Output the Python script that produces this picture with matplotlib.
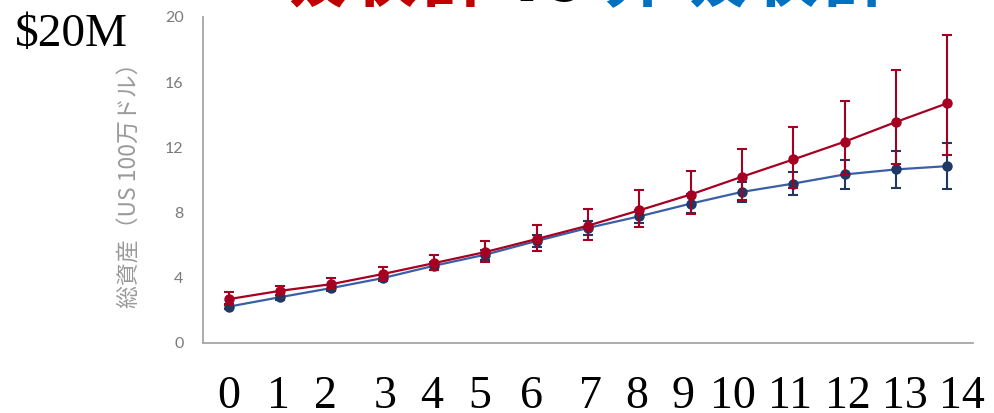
import matplotlib
matplotlib.use("Agg")
import matplotlib.pyplot as plt

# ---- data ----
years = list(range(15))
year_labels = [str(y) for y in years]

absorb_mean = [2.69, 3.20, 3.61, 4.23, 4.90, 5.58, 6.38, 7.20, 8.14, 9.11, 10.20, 11.26, 12.35, 13.56, 14.71]
absorb_err_hi = [0.41, 0.31, 0.37, 0.43, 0.52, 0.70, 0.84, 1.03, 1.23, 1.47, 1.68, 2.01, 2.50, 3.18, 4.20]
absorb_err_lo = [0.35, 0.27, 0.32, 0.37, 0.45, 0.61, 0.72, 0.86, 1.02, 1.20, 1.40, 1.74, 2.05, 2.56, 3.16]

nonabs_mean = [2.23, 2.81, 3.37, 3.98, 4.74, 5.42, 6.26, 7.06, 7.77, 8.55, 9.27, 9.78, 10.34, 10.65, 10.85]
nonabs_err = [0.15, 0.15, 0.18, 0.20, 0.25, 0.30, 0.35, 0.42, 0.42, 0.60, 0.60, 0.70, 0.87, 1.12, 1.42]

y_ticks = [0, 4, 8, 12, 16, 20]
y_label = "総資産（US 100万ドル）"
title_parts = ["吸収群", "vs", "非吸収群"]
corner_label = "$20M"

# ---- layout ----
W, H = 994, 413
fig = plt.figure(figsize=(W / 100, H / 100), dpi=100)
ax = fig.add_axes([203 / W, (H - 343) / H, (973 - 203) / W, (343 - 17) / H])

red = "#A50021"
blue_line = "#3B5FA6"
navy = "#1F3864"

ax.errorbar(years, absorb_mean, yerr=[absorb_err_lo, absorb_err_hi], color=red,
            lw=1.6, marker="o", ms=6.5, mfc=red, mec=red, ecolor=red,
            elinewidth=1.5, capsize=3.5, capthick=1.5, zorder=3)
ax.errorbar(years, nonabs_mean, yerr=nonabs_err, color=blue_line,
            lw=1.6, marker="o", ms=6.5, mfc=navy, mec=navy, ecolor=navy,
            elinewidth=1.5, capsize=3.5, capthick=1.5, zorder=2)

ax.set_xlim(-0.5, 14.5)
ax.set_ylim(0, 20)
ax.set_yticks(y_ticks)
ax.set_yticklabels([str(t) for t in y_ticks], family="Lato", fontsize=11.5, color="#7A7A7A")
ax.tick_params(axis="y", length=0, pad=14)
ax.set_xticks([])
for s in ["top", "right"]:
    ax.spines[s].set_visible(False)
for s in ["left", "bottom"]:
    ax.spines[s].set_color("#A6A6A6")
    ax.spines[s].set_linewidth(1.3)

ax.set_ylabel(y_label, family=["Noto Sans CJK JP", "DejaVu Sans"], fontsize=16.5, color="#9A9A9A")
ax.yaxis.set_label_coords((142 - 203) / 770, 0.50)

# big serif year labels under the axis
label_x_px = [229, 278, 325, 385, 432, 480, 531, 590, 637, 683, 733, 790, 848, 905, 962]
for lx, lab in zip(label_x_px, year_labels):
    fig.text(lx / W, 1 - 408 / H, lab, family="Liberation Serif", fontsize=33,
             ha="center", va="baseline", color="black")

fig.text(15 / W, 1 - 46 / H, corner_label, family="Liberation Serif", fontsize=34,
         ha="left", va="baseline", color="black")

# title (mostly cut off at the top)
tfont = ["Noto Sans CJK JP", "DejaVu Sans"]
ty = 1 - 1 / H
fig.text(273 / W, ty, title_parts[0], family=tfont, fontsize=52, fontweight="bold",
         color="#C00000", ha="left", va="baseline")
fig.text(545 / W, ty, title_parts[1], family=tfont, fontsize=52, fontweight="bold",
         color="black", ha="center", va="baseline")
fig.text(602 / W, ty, title_parts[2], family=tfont, fontsize=52, fontweight="bold",
         color="#0070C0", ha="left", va="baseline")

fig.savefig("out.png", dpi=100)
